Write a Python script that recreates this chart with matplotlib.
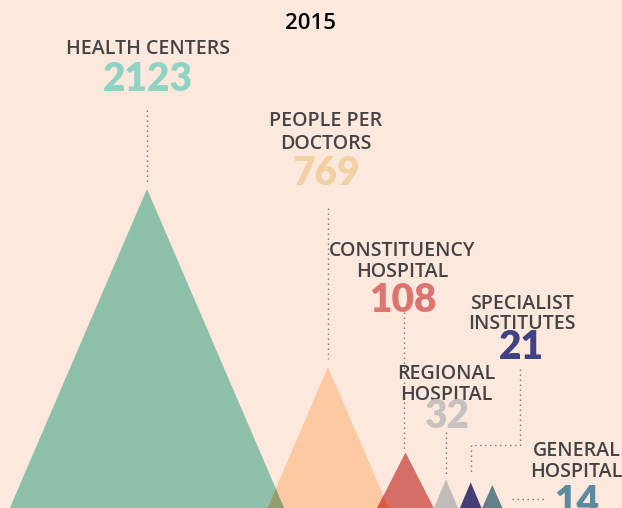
import matplotlib
matplotlib.use("Agg")
import matplotlib.pyplot as plt
from matplotlib.patches import Polygon
from matplotlib.colors import to_rgb

# ---------------- data ----------------
title = "2015"
categories = ["HEALTH CENTERS", "PEOPLE PER\nDOCTORS", "CONSTITUENCY\nHOSPITAL",
              "REGIONAL\nHOSPITAL", "SPECIALIST\nINSTITUTES", "GENERAL\nHOSPITAL"]
values = [2123, 769, 108, 32, 21, 14]
# visible peak heights of the triangles (axis units, bottom of chart = 0)
peak_heights = [319, 141, 55.5, 28.7, 25.7, 23]

# ---------------- styles / layout ----------------
tri_colors = ["#8ebfa8", "#fdc9a2", "#d56e66", "#c0bcb9", "#433f76", "#628088"]
num_colors = ["#8fd4c2", "#f1d1a3", "#dc7470", "#c6c2bf", "#3f4384", "#5c8ba1"]
bg = "#fde8de"
label_color = "#444444"
dot_color = "#7a7272"

W, H = 622, 508
apex_x = [147, 328, 405.5, 446, 470.7, 492.3]
half_slope = [0.43, 0.43, 0.51, 0.42, 0.42, 0.44]
base_y = -60  # triangles continue below the visible area

# label anchors: (center x, baseline of first line, measured from top)
label_pos = [(147.5, 54), (326, 126), (402.5, 256), (446.5, 379), (521.5, 309), (576.8, 456)]
line_gap = [21, 23, 21, 21, 20, 21]
num_gap = [37, 36, 35, 28, 30, 37]

# dotted connectors (x, y from top)
connectors = [
    [(147, 110), (147, 182)],
    [(327.5, 208), (327.5, 359)],
    [(404.3, 307), (404.3, 450)],
    [(446, 432), (446, 475)],
    [(520, 369), (520, 445), (470.7, 445), (470.7, 475)],
    [(512, 499), (545, 499)],
]

LABEL_FONT = ["Open Sans", "DejaVu Sans"]
NUM_FONT = ["Lato", "DejaVu Sans"]

fig = plt.figure(figsize=(W / 100, H / 100), dpi=100)
fig.patch.set_facecolor(bg)
ax = fig.add_axes([0, 0, 1, 1])
ax.set_facecolor(bg)
ax.set_xlim(0, W)
ax.set_ylim(0, H)
ax.axis("off")

def top(y):
    return H - y

# triangles
patches = []
for x, h, s, c in zip(apex_x, peak_heights, half_slope, tri_colors):
    full = h - base_y
    verts = [(x - s * full, base_y), (x, h), (x + s * full, base_y)]
    p = Polygon(verts, closed=True, facecolor=c, edgecolor="none", zorder=2)
    ax.add_patch(p)
    patches.append((p, verts, c))

# multiply-blend overlaps between neighbouring triangles
for (p1, v1, c1), (p2, v2, c2) in zip(patches[:-1], patches[1:]):
    r1, r2 = to_rgb(c1), to_rgb(c2)
    mc = tuple(min(1, a * b * 1.04) for a, b in zip(r1, r2))
    ov = Polygon(v2, closed=True, facecolor=mc, edgecolor="none", zorder=3)
    ax.add_patch(ov)
    ov.set_clip_path(p1)

# connectors
for pts in connectors:
    xs = [p[0] for p in pts]
    ys = [top(p[1]) for p in pts]
    ax.plot(xs, ys, color=dot_color, lw=1.0, linestyle=(0, (1, 2.6)), zorder=4)

# title
ax.text(311, top(29), title, ha="center", va="baseline", fontsize=16,
        fontweight="semibold", color="black", family=LABEL_FONT, zorder=5)

# labels and numbers
for cat, v, (cx, by), lg, ng, nc in zip(categories, values, label_pos, line_gap, num_gap, num_colors):
    lines = cat.split("\n")
    for i, ln in enumerate(lines):
        ax.text(cx, top(by + i * lg), ln, ha="center", va="baseline", fontsize=14.1,
                fontweight="semibold", color=label_color, family=LABEL_FONT, zorder=5)
    nb = by + (len(lines) - 1) * lg + ng
    ax.text(cx, top(nb), f"{v}", ha="center", va="baseline", fontsize=28,
            fontweight="heavy", color=nc, family=NUM_FONT, zorder=5)

fig.savefig("out.png", dpi=100, facecolor=bg)
